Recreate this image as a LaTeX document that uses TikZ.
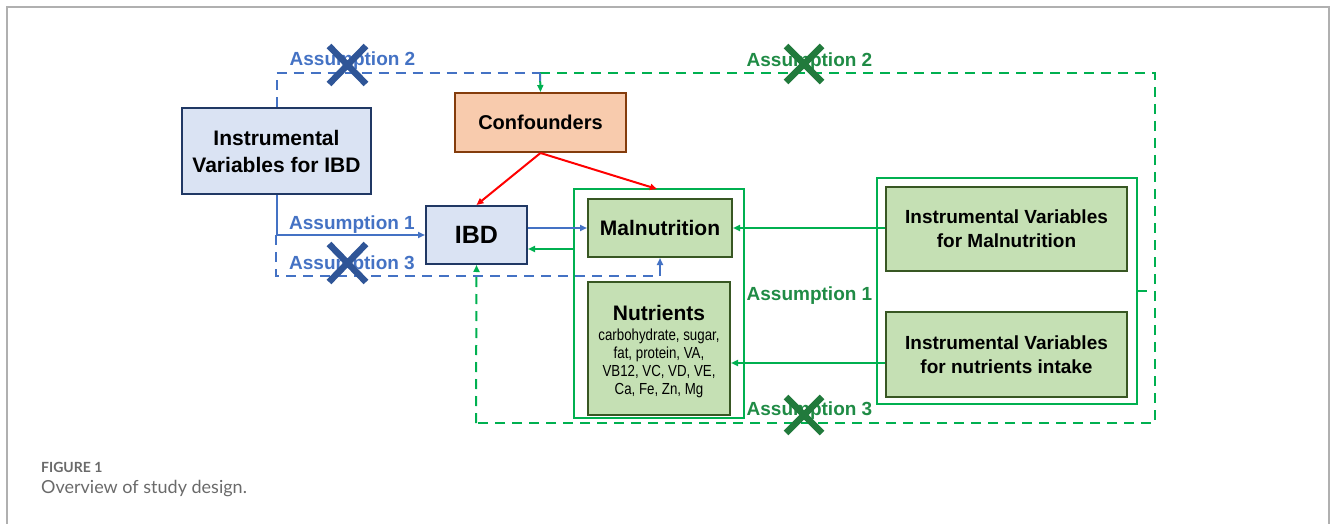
\documentclass[tikz,border=0pt]{standalone}
\usepackage{fontspec}
\setmainfont{Liberation Sans}
\newfontfamily\narrowfont[FakeStretch=0.83]{Liberation Sans}
\newfontfamily\latofont{Lato}
\usetikzlibrary{arrows.meta}
\definecolor{boxblue}{HTML}{DAE3F3}
\definecolor{navy}{HTML}{203864}
\definecolor{boxgreen}{HTML}{C5E0B4}
\definecolor{dgreen}{HTML}{385723}
\definecolor{lgreen}{HTML}{00B050}
\definecolor{boxorange}{HTML}{F8CBAD}
\definecolor{brown}{HTML}{843C0C}
\definecolor{lblue}{HTML}{4472C4}
\definecolor{xblue}{HTML}{2F5597}
\definecolor{tgreen}{HTML}{1F8B45}
\definecolor{xgreen}{HTML}{217A3C}
\definecolor{framegray}{HTML}{B0B0B0}
\definecolor{capgray}{HTML}{6A6A6A}
\tikzset{
  box/.style={line width=2pt, inner sep=0pt, align=center},
  bluebox/.style={box, fill=boxblue, draw=navy},
  greenbox/.style={box, fill=boxgreen, draw=dgreen},
  orangebox/.style={box, fill=boxorange, draw=brown},
  outerbox/.style={draw=lgreen, line width=1.5pt, inner sep=0pt},
  tip/.style={-{Triangle[length=7pt,width=6pt]}},
  bline/.style={draw=lblue, line width=2pt},
  gline/.style={draw=lgreen, line width=2pt},
  rline/.style={draw=red, line width=2pt},
  dashline/.style={dash pattern=on 10pt off 7pt},
  blabel/.style={text=lblue, font=\fontsize{19}{22}\selectfont\bfseries, inner sep=0pt},
  glabel/.style={text=tgreen, font=\fontsize{19}{22}\selectfont\bfseries, inner sep=0pt},
  xmark/.style={line width=6.5pt},
}
\begin{document}
\begin{tikzpicture}[x=1pt,y=-1pt]
\useasboundingbox (0,0) rectangle (1331,524);
% frame
\draw[framegray, line width=1.5pt] (7,524) -- (7,7) -- (1329,7) -- (1329,524);

% outer boxes
\node[outerbox, minimum width=170pt, minimum height=229pt] (outerL) at (659,303.5) {};
\node[outerbox, minimum width=260pt, minimum height=226pt] (outerR) at (1007,291) {};

% nodes
\node[bluebox, minimum width=189pt, minimum height=86pt, font=\fontsize{21}{27}\selectfont\bfseries] (ivibd) at (276.5,151) {Instrumental\\Variables for IBD};
\node[orangebox, minimum width=171pt, minimum height=59pt, font=\fontsize{20}{24}\selectfont\bfseries] (conf) at (540.5,122.5) {Confounders};
\node[bluebox, minimum width=101pt, minimum height=58pt, font=\fontsize{25}{30}\selectfont\bfseries] (ibd) at (476.5,235) {IBD};
\node[greenbox, minimum width=144pt, minimum height=58pt, font=\fontsize{21}{25}\selectfont\bfseries] (maln) at (660,228) {Malnutrition};
\node[greenbox, minimum width=142pt, minimum height=133pt] (nut) at (659,348.5) {};
\node[inner sep=0pt, font=\fontsize{21}{25}\selectfont\bfseries] (nuttitle) at (659,313) {Nutrients};
\node[inner sep=0pt, align=center, font=\narrowfont\fontsize{16}{18}\selectfont] (nutlist) at (659,363.5) {carbohydrate, sugar,\\fat, protein, VA,\\VB12, VC, VD, VE,\\Ca, Fe, Zn, Mg};
\node[greenbox, minimum width=241pt, minimum height=84pt, font=\fontsize{19}{24}\selectfont\bfseries] (ivm) at (1006.5,229) {Instrumental Variables\\for Malnutrition};
\node[greenbox, minimum width=241pt, minimum height=85pt, font=\fontsize{19}{24}\selectfont\bfseries] (ivn) at (1006.5,354.5) {Instrumental Variables\\for nutrients intake};

% named coordinates
\coordinate (jn) at (540,73);
\coordinate (gTR) at (1155,73);
\coordinate (gBR) at (1155,423);
\coordinate (gBL) at (476,423);
\coordinate (bA) at (276,235);
\coordinate (bB) at (276,276);
\coordinate (bC) at (660,276);
\coordinate (y249) at (0,249);
\coordinate (y363) at (0,363);
\coordinate (tick) at (1147,291);
\coordinate (redM) at (657,189);

% dashed lines
\draw[gline, dashline] (jn) -- (gTR) -- (gBR) -- (gBL);
\draw[gline, dashline, tip] (gBL) -- (ibd.south);
\draw[bline, dashline] (ivibd.north) |- (jn);
\draw[gline, tip] (jn) -- (conf.north);
\draw[bline] (jn) -- ([yshift=-8pt]jn);
\draw[bline, dashline] (bA) -- (bB) -- (bC);
\draw[bline, tip] (bC) -- (maln.south);

% solid connectors
\draw[bline, tip] (ivibd.south) |- (ibd.west);
\draw[bline, tip] (ibd.east |- maln.west) -- (maln.west);
\draw[gline, tip] (outerL.west |- y249) -- (ibd.east |- y249);
\draw[rline, tip] (conf.south) -- (ibd.north);
\draw[rline, tip] (conf.south) -- (redM);
\draw[gline, tip] (ivm.west |- maln.east) -- (maln.east);
\draw[gline, tip] (ivn.west |- y363) -- (nut.east |- y363);
\draw[gline] (outerR.east) -- (tick);

% labels
\node[blabel] (ba2) at (352.5,61) {Assumption 2};
\node[blabel] (ba1) at (352,225) {Assumption 1};
\node[blabel] (ba3) at (352,265) {Assumption 3};
\node[glabel] (ga2) at (809.5,62) {Assumption 2};
\node[glabel] (ga1) at (809.5,296) {Assumption 1};
\node[glabel] (ga3) at (809.5,411) {Assumption 3};

% crosses
\draw[xmark, xblue] (329,46) -- (366,84) (329,84) -- (366,46);
\draw[xmark, xblue] (329,244) -- (366,282) (329,282) -- (366,244);
\draw[xmark, xgreen] (786,46) -- (822,82) (786,82) -- (822,46);
\draw[xmark, xgreen] (786,397) -- (822,433) (786,433) -- (822,397);

% caption
\node[anchor=west, inner sep=0pt, text=capgray, font=\latofont\fontsize{14}{16}\selectfont\bfseries] (figlabel) at (41,467) {FIGURE 1};
\node[anchor=west, inner sep=0pt, text=capgray, font=\latofont\fontsize{18}{21}\selectfont] (figcap) at (41,489) {Overview of study design.};
\end{tikzpicture}
\end{document}
